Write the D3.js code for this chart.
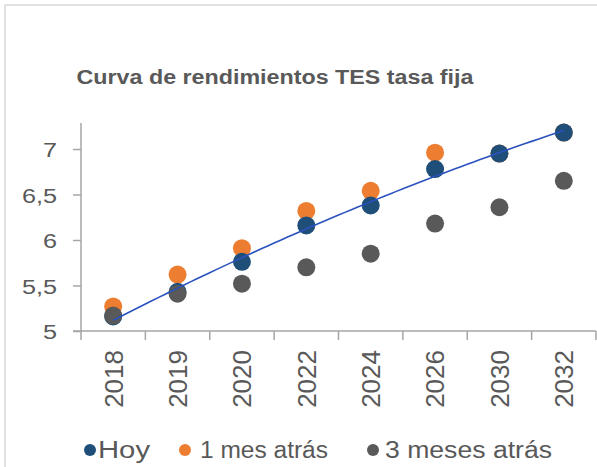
<!DOCTYPE html>
<html>
<head>
<meta charset="utf-8">
<script src="https://cdn.jsdelivr.net/npm/d3@7"></script>
<style>
  body { margin: 0; background: #fff; }
  text { font-family: "Liberation Sans", Arial, sans-serif; fill: #595959; }
</style>
</head>
<body>
<svg width="597" height="467"></svg>
<script>
// data
var years = ["2018", "2019", "2020", "2022", "2024", "2026", "2030", "2032"];
var hoy = [5.16, 5.43, 5.76, 6.16, 6.38, 6.78, 6.95, 7.18];
var unMes = [5.27, 5.62, 5.91, 6.32, 6.54, 6.96, 6.95, 7.18];
var tresMeses = [5.17, 5.41, 5.52, 5.70, 5.85, 6.18, 6.36, 6.65];
var yTicks = [5, 5.5, 6, 6.5, 7];
var seriesNames = ["Hoy", "1 mes atrás", "3 meses atrás"];

var colors = {hoy: "#1f4e79", unMes: "#ed7d31", tres: "#595959"};

var svg = d3.select("svg");

// border of the chart area
svg.append("rect")
  .attr("x", 5).attr("y", 5)
  .attr("width", 620).attr("height", 480)
  .attr("fill", "none")
  .attr("stroke", "#d9d9d9")
  .attr("stroke-width", 1.5);

var x = d3.scaleBand().domain(years).range([81, 596]);
var y = d3.scaleLinear().domain([5, 7]).range([331, 149]);

// title
svg.append("text")
  .attr("x", 275).attr("y", 84)
  .attr("text-anchor", "middle")
  .attr("font-size", "19.5px")
  .attr("font-weight", "bold")
  .attr("textLength", 397)
  .attr("lengthAdjust", "spacingAndGlyphs")
  .text("Curva de rendimientos TES tasa fija");

// y axis
var yAxis = svg.append("g").attr("transform", "translate(81,0)")
  .call(d3.axisLeft(y).tickValues(yTicks).tickSize(8).tickFormat(function(d) {
    return String(d).replace(".", ",");
  }));
yAxis.select(".domain").remove();
yAxis.selectAll("line").attr("stroke", "#a6a6a6").attr("stroke-width", 1.5);
yAxis.selectAll("text")
  .attr("font-size", "21px")
  .attr("fill", "#595959")
  .attr("font-family", "Liberation Sans, Arial, sans-serif")
  .attr("x", 0)
  .attr("transform", function(d) { return "translate(-24,0) scale(1.2,1)"; })
  .attr("dy", "0.36em");

svg.append("line")
  .attr("x1", 81).attr("x2", 81)
  .attr("y1", y(7.286)).attr("y2", y(5))
  .attr("stroke", "#a6a6a6").attr("stroke-width", 1.5);

// x axis
svg.append("line")
  .attr("x1", 73).attr("x2", 596)
  .attr("y1", y(5)).attr("y2", y(5))
  .attr("stroke", "#a6a6a6").attr("stroke-width", 1.5);

var tickPos = years.map(function(d) { return x(d); }).concat([x.range()[1]]);
svg.selectAll(".xtick")
  .data(tickPos)
  .enter()
  .append("line")
  .attr("class", "xtick")
  .attr("x1", function(d) { return d; })
  .attr("x2", function(d) { return d; })
  .attr("y1", y(5))
  .attr("y2", y(5) + 9)
  .attr("stroke", "#a6a6a6")
  .attr("stroke-width", 1.5);

svg.selectAll(".xlabel")
  .data(years)
  .enter()
  .append("text")
  .attr("class", "xlabel")
  .attr("transform", function(d) {
    return "translate(" + (x(d) + x.bandwidth() / 2) + ",350) rotate(-90)";
  })
  .attr("text-anchor", "end")
  .attr("dy", "0.36em")
  .attr("font-size", "26px")
  .text(function(d) { return d; });

// dots: orange first, then Hoy, then grey on top
var drawDots = function(values, color) {
  svg.append("g").selectAll("circle")
    .data(values)
    .enter()
    .append("circle")
    .attr("cx", function(d, i) { return x(years[i]) + x.bandwidth() / 2; })
    .attr("cy", function(d) { return y(d); })
    .attr("r", 9)
    .attr("fill", color);
};
drawDots(unMes, colors.unMes);
drawDots(hoy, colors.hoy);
drawDots(tresMeses, colors.tres);

// polynomial (order 2) trend line of the Hoy series
var n = hoy.length;
var ts = hoy.map(function(d, i) { return i - (n - 1) / 2; });
var st2 = d3.sum(ts, function(t) { return t * t; });
var st4 = d3.sum(ts, function(t) { return t * t * t * t; });
var sy = d3.sum(hoy);
var sty = d3.sum(hoy, function(d, i) { return ts[i] * d; });
var st2y = d3.sum(hoy, function(d, i) { return ts[i] * ts[i] * d; });
var b = sty / st2;
var c = (st2y - st2 * sy / n) / (st4 - st2 * st2 / n);
var a = (sy - c * st2) / n;

var trend = d3.range(0, n - 1 + 0.001, 0.1).map(function(i) {
  var t = i - (n - 1) / 2;
  return [x(years[0]) + x.bandwidth() / 2 + i * x.step(), y(a + b * t + c * t * t)];
});
svg.append("path")
  .attr("d", d3.line()(trend))
  .attr("fill", "none")
  .attr("stroke", "#2a52be")
  .attr("stroke-width", 1.6);

// legend
var legendItems = [
  {name: seriesNames[0], color: colors.hoy, cx: 90, tx: 98, len: 52},
  {name: seriesNames[1], color: colors.unMes, cx: 185, tx: 200, len: 128},
  {name: seriesNames[2], color: colors.tres, cx: 373, tx: 385, len: 167}
];
var leg = svg.append("g");
leg.selectAll("circle")
  .data(legendItems)
  .enter()
  .append("circle")
  .attr("cx", function(d) { return d.cx; })
  .attr("cy", 450)
  .attr("r", 6)
  .attr("fill", function(d) { return d.color; });
leg.selectAll("text")
  .data(legendItems)
  .enter()
  .append("text")
  .attr("x", function(d) { return d.tx; })
  .attr("y", 458)
  .attr("font-size", "23px")
  .attr("textLength", function(d) { return d.len; })
  .attr("lengthAdjust", "spacingAndGlyphs")
  .text(function(d) { return d.name; });
</script>
</body>
</html>
